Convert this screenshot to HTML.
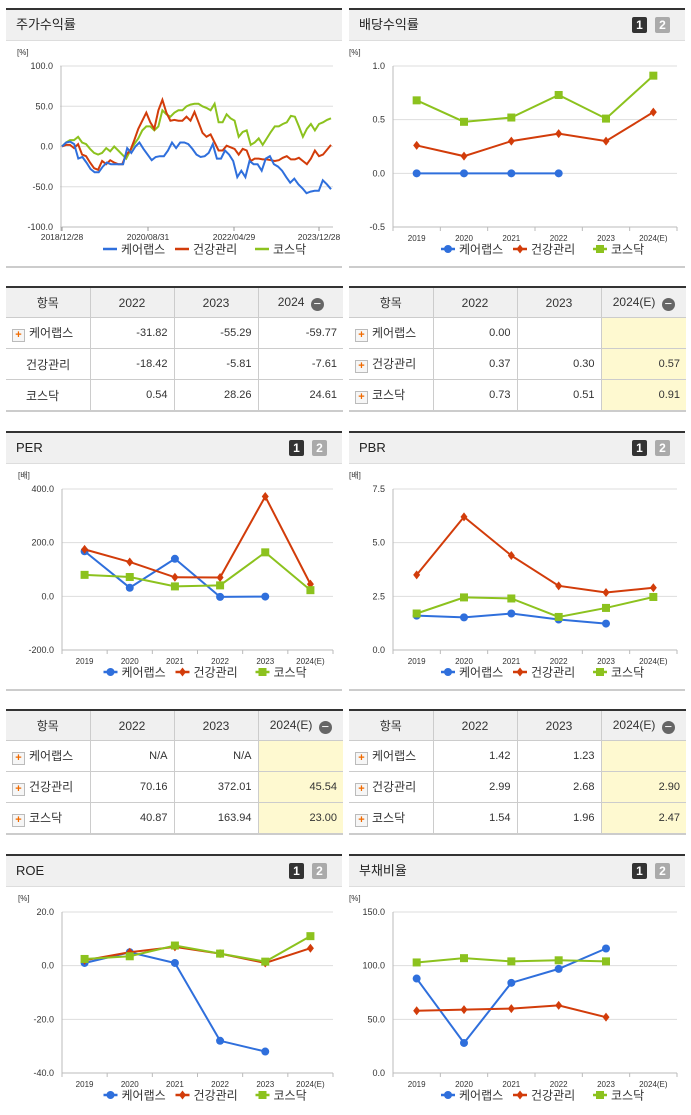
<!DOCTYPE html>
<html><head><meta charset="utf-8">
<style>
body{margin:0;width:691px;height:1115px;background:#fff;font-family:"Liberation Sans","Noto Sans CJK KR",sans-serif;position:relative;overflow:hidden}
.panel{position:absolute;width:336px;border-top:2px solid #333}
.hdr{height:30px;background:#f0f0f0;border-bottom:1px solid #ddd;font-size:13px;color:#222;line-height:30px;padding-left:10px;position:relative}
.b1,.b2{position:absolute;top:7px;width:15px;height:16px;font-size:12px;font-weight:bold;color:#fff;line-height:16px;text-align:center;border-radius:2px}
.b1{right:38px;background:#333}.b2{right:15px;background:#aaa}
.bot{position:absolute;left:0;right:0;height:2px;background:#ccc}
table{position:absolute;border-collapse:collapse;table-layout:fixed;width:337px;font-size:11px;color:#333;border-top:2px solid #333;border-bottom:2px solid #ccc}
td,th{border:1px solid #ccc;height:30px;padding:0 6px;text-align:right;overflow:hidden;white-space:nowrap}
th{background:#f0f0f0;font-weight:normal;text-align:center;font-size:12px;height:29px}
td.n{text-align:left;font-size:12px;padding-left:6px}
td.y{background:#fef9d0}
tr td:first-child,tr th:first-child{border-left:none}tr td:last-child,tr th:last-child{border-right:none}
.pl{display:inline-block;width:11px;height:11px;border:1px solid #bbb;background:#f6f6f6;color:#f06a00;font-size:11px;line-height:10px;text-align:center;font-weight:bold;margin-right:4px;vertical-align:-1px}
.mn{display:inline-block;width:13px;height:13px;border-radius:50%;background:#666;color:#fff;font-size:13px;line-height:12px;text-align:center;vertical-align:-2px;margin-left:3px}
svg{position:absolute;left:0;top:0}
</style></head><body>
<div class="panel" style="left:6px;top:8px;height:256px"><div class="hdr">주가수익률</div><div class="bot" style="top:256px"></div></div>
<div class="panel" style="left:349px;top:8px;height:256px"><div class="hdr">배당수익률<span class="b1">1</span><span class="b2">2</span></div><div class="bot" style="top:256px"></div></div>
<div class="panel" style="left:6px;top:431px;height:256px"><div class="hdr">PER<span class="b1">1</span><span class="b2">2</span></div><div class="bot" style="top:256px"></div></div>
<div class="panel" style="left:349px;top:431px;height:256px"><div class="hdr">PBR<span class="b1">1</span><span class="b2">2</span></div><div class="bot" style="top:256px"></div></div>
<div class="panel" style="left:6px;top:854px;height:256px"><div class="hdr">ROE<span class="b1">1</span><span class="b2">2</span></div></div>
<div class="panel" style="left:349px;top:854px;height:256px"><div class="hdr">부채비율<span class="b1">1</span><span class="b2">2</span></div></div>

<table style="left:6px;top:286px">
<colgroup><col style="width:84px"><col style="width:84px"><col style="width:84px"><col style="width:85px"></colgroup>
<tr><th>항목</th><th>2022</th><th>2023</th><th>2024 <span class="mn">−</span></th></tr>
<tr><td class="n"><span class="pl">+</span>케어랩스</td><td>-31.82</td><td>-55.29</td><td>-59.77</td></tr>
<tr><td class="n" style="padding-left:20px">건강관리</td><td>-18.42</td><td>-5.81</td><td>-7.61</td></tr>
<tr><td class="n" style="padding-left:20px">코스닥</td><td>0.54</td><td>28.26</td><td>24.61</td></tr></table>
<table style="left:349px;top:286px">
<colgroup><col style="width:84px"><col style="width:84px"><col style="width:84px"><col style="width:85px"></colgroup>
<tr><th>항목</th><th>2022</th><th>2023</th><th>2024(E) <span class="mn">−</span></th></tr>
<tr><td class="n"><span class="pl">+</span>케어랩스</td><td>0.00</td><td></td><td class="y"></td></tr>
<tr><td class="n"><span class="pl">+</span>건강관리</td><td>0.37</td><td>0.30</td><td class="y">0.57</td></tr>
<tr><td class="n"><span class="pl">+</span>코스닥</td><td>0.73</td><td>0.51</td><td class="y">0.91</td></tr></table>
<table style="left:6px;top:709px">
<colgroup><col style="width:84px"><col style="width:84px"><col style="width:84px"><col style="width:85px"></colgroup>
<tr><th>항목</th><th>2022</th><th>2023</th><th>2024(E) <span class="mn">−</span></th></tr>
<tr><td class="n"><span class="pl">+</span>케어랩스</td><td>N/A</td><td>N/A</td><td class="y"></td></tr>
<tr><td class="n"><span class="pl">+</span>건강관리</td><td>70.16</td><td>372.01</td><td class="y">45.54</td></tr>
<tr><td class="n"><span class="pl">+</span>코스닥</td><td>40.87</td><td>163.94</td><td class="y">23.00</td></tr></table>
<table style="left:349px;top:709px">
<colgroup><col style="width:84px"><col style="width:84px"><col style="width:84px"><col style="width:85px"></colgroup>
<tr><th>항목</th><th>2022</th><th>2023</th><th>2024(E) <span class="mn">−</span></th></tr>
<tr><td class="n"><span class="pl">+</span>케어랩스</td><td>1.42</td><td>1.23</td><td class="y"></td></tr>
<tr><td class="n"><span class="pl">+</span>건강관리</td><td>2.99</td><td>2.68</td><td class="y">2.90</td></tr>
<tr><td class="n"><span class="pl">+</span>코스닥</td><td>1.54</td><td>1.96</td><td class="y">2.47</td></tr></table>

<svg id="s" width="691" height="1115"></svg>
<script>
const years=["2019","2020","2021","2022","2023","2024(E)"];
const stockTicks=["2018/12/28","2020/08/31","2022/04/29","2023/12/28"];
const stockBlue=[0,5,6,3,-15,-13,-20,-28,-32,-32,-25,-20,-22,-22,-22,-22,-2,-8,0,5,-3,-10,-17,-13,-12,-12,-5,5,-2,5,5,3,-3,-10,-13,-12,-8,3,-15,-15,-5,-10,-18,-38,-30,-38,-18,-22,-22,-30,-15,-12,-22,-25,-30,-38,-45,-40,-47,-52,-58,-56,-55,-55,-42,-47,-53];
const stockRed=[0,2,2,-2,3,-10,-12,-20,-27,-29,-18,-22,-17,-20,-22,-22,-10,-5,8,22,32,42,30,22,45,58,42,32,33,32,32,37,32,43,30,17,12,15,5,-5,-5,1,-1,-3,-10,-3,-5,-18,-15,-15,-16,-16,-17,-18,-17,-14,-12,-16,-16,-14,-18,-22,-15,-5,-12,-10,-4,2];
const stockGreen=[0,5,8,8,12,5,3,-3,-8,-10,-8,-2,-6,0,-5,-10,-15,-5,3,10,20,25,25,20,25,45,40,37,42,45,45,50,52,53,53,50,48,45,53,30,30,40,35,32,12,18,20,2,5,10,2,10,18,25,25,28,30,38,37,25,12,22,28,20,28,30,33,35];
const divBlue=[0,0,0,0,null,null],divRed=[0.26,0.16,0.30,0.37,0.30,0.57],divGreen=[0.68,0.48,0.52,0.73,0.51,0.91];
const perBlue=[168,32,140,-2,-1,null],perRed=[175,128,71,70.16,372.01,45.54],perGreen=[80,72,37,40.87,163.94,23.00];
const pbrBlue=[1.6,1.52,1.7,1.42,1.23,null],pbrRed=[3.5,6.2,4.4,2.99,2.68,2.90],pbrGreen=[1.7,2.45,2.4,1.54,1.96,2.47];
const roeBlue=[1,5,1,-28,-32,null],roeRed=[2,5,7,4.5,1,6.5],roeGreen=[2.5,3.5,7.5,4.5,1.5,11];
const debtBlue=[88,28,84,97,116,null],debtRed=[58,59,60,63,52,null],debtGreen=[103,107,104,105,104,null];
const C={b:"#2f6fdc",r:"#d23c0a",g:"#8cc21e"};
const svg=document.getElementById('s');const NS="http://www.w3.org/2000/svg";
function el(t,a,p){const e=document.createElementNS(NS,t);for(const k in a)e.setAttribute(k,a[k]);(p||svg).appendChild(e);return e;}
function txt(x,y,s,a,fs,col){const e=el('text',{x:x,y:y,'font-size':fs||9,fill:col||'#333','text-anchor':a||'middle','font-family':'Liberation Sans, Noto Sans CJK KR, sans-serif'});e.textContent=s;return e;}
function marker(g,type,x,y,col){
 if(type==='b'){const m=el('circle',{cx:x,cy:y,r:4,fill:col},g);}
 else if(type==='r'){const m=el('path',{d:`M${x} ${y-4.5}L${x+3.5} ${y}L${x} ${y+4.5}L${x-3.5} ${y}Z`,fill:col},g);}
 else {const m=el('rect',{x:x-4,y:y-4,width:8,height:8,fill:col},g);}
}
function legend(cx,y,markers){
 const items=[["b","케어랩스"],["r","건강관리"],["g","코스닥"]];const xs=[cx-82,cx-10,cx+70];
 items.forEach((it,i)=>{const g=el('g',{});
  el('line',{x1:xs[i]-12,y1:y,x2:xs[i]+2,y2:y,stroke:C[it[0]],'stroke-width':2.5},g);
  if(markers)marker(g,it[0],xs[i]-5,y,C[it[0]]);
  const t=txt(xs[i]+6,y+4.5,it[1],'start',12,'#333');g.appendChild(t);});
}
function chart(o){
 const x0=o.x0,x1=o.x1,yT=o.top+58,yB=o.top+219;
 const ys=v=>yB-(v-o.min)/(o.max-o.min)*(yB-yT);
 txt(o.x0-44,o.top+47,o.unit,'start',8,'#333');
 o.ticks.forEach(t=>{const y=ys(t);el('line',{x1:x0,y1:y,x2:x1,y2:y,stroke:'#ddd'});txt(x0-8,y+3,t.toFixed(1),'end',9,'#333');});
 el('line',{x1:x0,y1:yB,x2:x1,y2:yB,stroke:'#bbb'});el('line',{x1:x0,y1:yT,x2:x0,y2:yB+4,stroke:'#bbb'});
 const n=years.length,w=(x1-x0)/n,xs=i=>x0+w*(i+0.5);
 for(let i=0;i<=n;i++)el('line',{x1:x0+w*i,y1:yB,x2:x0+w*i,y2:yB+4,stroke:'#bbb'});
 years.forEach((yr,i)=>txt(xs(i),yB+14,yr,'middle',8,'#333'));
 o.series.forEach(s=>{const g=el('g',{});
  let d='';s.data.forEach((v,i)=>{if(v==null)return;d+=(d?'L':'M')+xs(i)+' '+ys(v);});
  el('path',{d:d,fill:'none',stroke:C[s.t],'stroke-width':2},g);
  s.data.forEach((v,i)=>{if(v!=null)marker(g,s.t,xs(i),ys(v),C[s.t]);});});
 legend((x0+x1)/2,o.top+241,true);
}
const S=(b,r,g)=>[{name:'케어랩스',t:'b',data:b},{name:'건강관리',t:'r',data:r},{name:'코스닥',t:'g',data:g}];
(function(){const x0=62,x1=333,top=8,yT=66,yB=227,min=-100,max=100;const ys=v=>yB-(v-min)/(max-min)*(yB-yT);
 txt(17,top+47,'[%]','start',8);
 [100,50,0,-50,-100].forEach(t=>{el('line',{x1:x0-2,y1:ys(t),x2:x1,y2:ys(t),stroke:'#ddd'});txt(53,ys(t)+3,t.toFixed(1),'end',9);});
 el('line',{x1:x0,y1:yB,x2:x1,y2:yB,stroke:'#bbb'});el('line',{x1:x0-1,y1:yT,x2:x0-1,y2:yB+4,stroke:'#bbb'});
 const tx=[62,148,234,319];stockTicks.forEach((t,i)=>{el('line',{x1:tx[i],y1:yB,x2:tx[i],y2:yB+4,stroke:'#999'});txt(tx[i],yB+13,t,'middle',8.5);});
 [[stockGreen,'g','코스닥'],[stockRed,'r','건강관리'],[stockBlue,'b','케어랩스']].forEach(s=>{let d='';const n=s[0].length;
  s[0].forEach((v,i)=>{d+=(i?'L':'M')+(x0+(331-x0)*i/(n-1)).toFixed(1)+' '+ys(v).toFixed(1);});
  const p=el('path',{d:d,fill:'none',stroke:C[s[1]],'stroke-width':2});});
 legend(197,top+241,false);})();
chart({x0:393,x1:677,top:8,min:-0.5,max:1.0,ticks:[1.0,0.5,0.0,-0.5],unit:'[%]',series:S(divBlue,divRed,divGreen)});
chart({x0:62,x1:333,top:431,min:-200,max:400,ticks:[400,200,0,-200],unit:'[배]',series:S(perBlue,perRed,perGreen)});
chart({x0:393,x1:677,top:431,min:0,max:7.5,ticks:[7.5,5.0,2.5,0.0],unit:'[배]',series:S(pbrBlue,pbrRed,pbrGreen)});
chart({x0:62,x1:333,top:854,min:-40,max:20,ticks:[20,0,-20,-40],unit:'[%]',series:S(roeBlue,roeRed,roeGreen)});
chart({x0:393,x1:677,top:854,min:0,max:150,ticks:[150,100,50,0],unit:'[%]',series:S(debtBlue,debtRed,debtGreen)});
</script>
</body></html>
